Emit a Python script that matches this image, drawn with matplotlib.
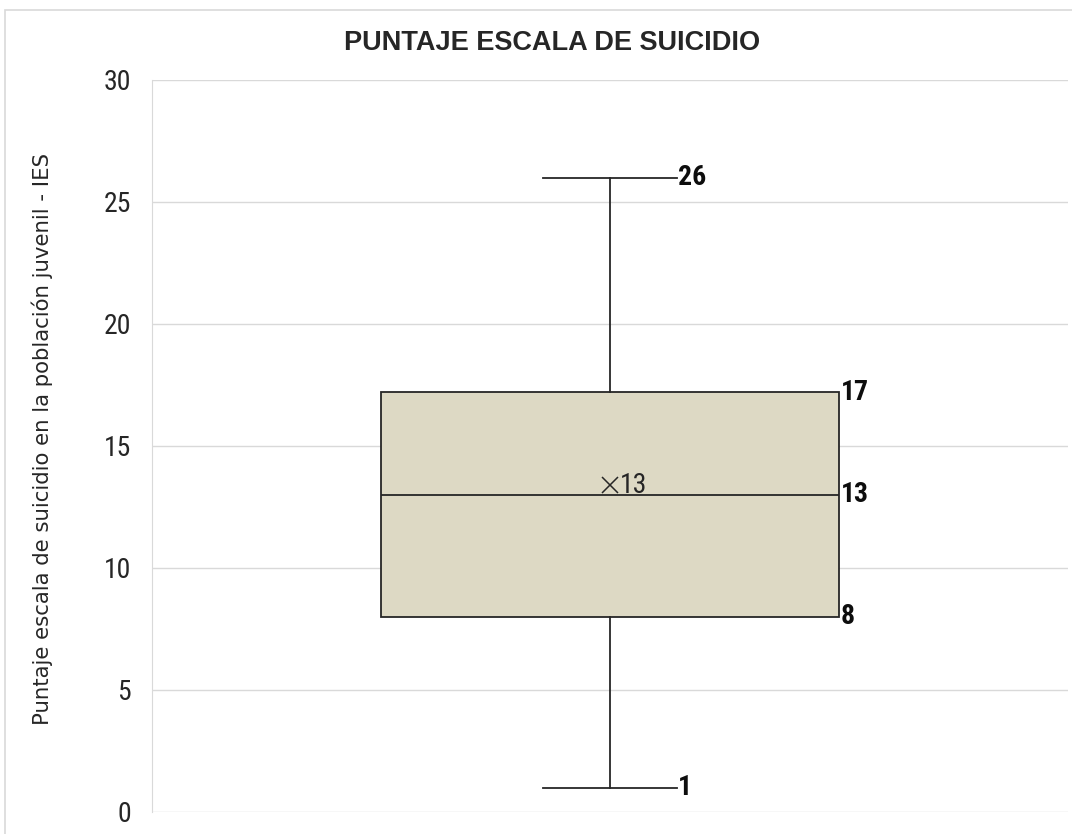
import matplotlib.pyplot as plt
from matplotlib.patches import Rectangle

# box plot summary
whisker_low = 1
q1 = 8
median = 13
q3 = 17.2
whisker_high = 26
mean = 13.4
value_labels = ["26", "17", "13", "8", "1"]
mean_label = "13"
yticks = [0, 5, 10, 15, 20, 25, 30]

narrow = ["Roboto Condensed", "Archivo Narrow", "Liberation Sans"]

fig = plt.figure(figsize=(10.72, 8.34), dpi=100)
fig.patches.append(Rectangle((0.005, -0.05), 1.1, 1.05 - 0.012, transform=fig.transFigure,
                             fill=False, edgecolor="#d9d9d9", linewidth=1.2))
ax = fig.add_axes([0.1418, 0.0264, 0.8545, 0.8777])

stats = [{"whislo": whisker_low, "q1": q1, "med": median, "q3": q3,
          "whishi": whisker_high, "mean": mean, "fliers": []}]
ax.bxp(stats, positions=[1], widths=0.501, patch_artist=True, showmeans=True,
       boxprops=dict(facecolor="#ddd9c4", edgecolor="#262626", linewidth=1.3),
       medianprops=dict(color="#262626", linewidth=1.3),
       whiskerprops=dict(color="#262626", linewidth=1.3),
       capprops=dict(color="#262626", linewidth=1.3), capwidths=0.147,
       meanprops=dict(marker="x", markeredgecolor="#262626", markersize=11,
                      markeredgewidth=1.1))

ax.set_xlim(0.5, 1.5)
ax.set_ylim(0, 30)
ax.set_yticks(yticks)
ax.set_xticks([])
ax.grid(axis="y", color="#d9d9d9", linewidth=1)
ax.set_axisbelow(True)
for s in ["top", "right", "bottom"]:
    ax.spines[s].set_visible(False)
ax.spines["left"].set_color("#d9d9d9")
ax.tick_params(axis="y", length=0, pad=15, labelsize=20, labelcolor="#262626")
for lbl in ax.get_yticklabels():
    lbl.set_family(narrow)

ax.set_ylabel("Puntaje escala de suicidio en la población juvenil - IES",
              fontsize=15.3, family=["DejaVu Sans"], color="#262626")
ax.yaxis.set_label_coords(-0.108, 0.51)

# title is centred on the whole chart area, not on the plot area
fig.text(0.515, 0.948, "PUNTAJE ESCALA DE SUICIDIO", ha="center", va="center",
         fontsize=19.5, fontweight="bold", family=["Liberation Sans", "DejaVu Sans"],
         color="#262626")

# data labels
cap_end = 1 + 0.147 / 2
box_end = 1 + 0.501 / 2
label_pos = [(cap_end, whisker_high), (box_end, q3), (box_end, median),
             (box_end, q1), (cap_end, whisker_low)]
for (x, y), t in zip(label_pos, value_labels):
    ax.text(x + 0.001, y, t, ha="left", va="center", fontsize=20,
            fontweight="bold", family=narrow, color="#0d0d0d")
ax.text(1.011, mean, mean_label, ha="left", va="center", fontsize=20,
        family=narrow, color="#262626")

fig.savefig("out.png", dpi=100)
